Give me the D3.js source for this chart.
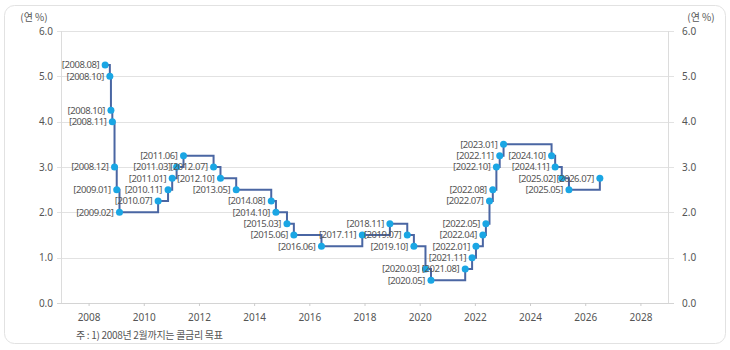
<!DOCTYPE html>
<html>
<head>
<meta charset="utf-8">
<script src="https://cdn.jsdelivr.net/npm/d3@7"></script>
<style>
  html, body { margin: 0; padding: 0; background: #fff; }
  svg { display: block; font-family: "Noto Sans CJK KR", "Noto Sans", sans-serif; }
</style>
</head>
<body>
<div id="chart"></div>
<script>
// svg area
var svgWidth = 730;
var svgHeight = 350;

// data: label, decimal date, rate
var dateLabels = ["2008.08", "2008.10", "2008.10", "2008.11", "2008.12", "2009.01", "2009.02",
    "2010.07", "2010.11", "2011.01", "2011.03", "2011.06", "2012.07", "2012.10", "2013.05",
    "2014.08", "2014.10", "2015.03", "2015.06", "2016.06", "2017.11", "2018.11", "2019.07",
    "2019.10", "2020.03", "2020.05", "2021.08", "2021.11", "2022.01", "2022.04", "2022.05",
    "2022.07", "2022.08", "2022.10", "2022.11", "2023.01", "2024.10", "2024.11", "2025.02",
    "2025.05", "2026.07"];
var dateValues = [2008.60, 2008.77, 2008.81, 2008.86, 2008.94, 2009.02, 2009.12,
    2010.52, 2010.88, 2011.03, 2011.19, 2011.44, 2012.53, 2012.78, 2013.35,
    2014.62, 2014.79, 2015.19, 2015.44, 2016.44, 2017.92, 2018.92, 2019.55,
    2019.79, 2020.21, 2020.41, 2021.65, 2021.90, 2022.04, 2022.29, 2022.40,
    2022.53, 2022.65, 2022.78, 2022.90, 2023.04, 2024.78, 2024.91, 2025.15,
    2025.41, 2026.53];
var rates = [5.25, 5.00, 4.25, 4.00, 3.00, 2.50, 2.00,
    2.25, 2.50, 2.75, 3.00, 3.25, 3.00, 2.75, 2.50,
    2.25, 2.00, 1.75, 1.50, 1.25, 1.50, 1.75, 1.50,
    1.25, 0.75, 0.50, 0.75, 1.00, 1.25, 1.50, 1.75,
    2.25, 2.50, 3.00, 3.25, 3.50, 3.25, 3.00, 2.75,
    2.50, 2.75];
var xTicks = [2008, 2010, 2012, 2014, 2016, 2018, 2020, 2022, 2024, 2026, 2028];
var yTicks = [0, 1, 2, 3, 4, 5, 6];
var unitLabel = "(연 %)";
var noteText = "주 : 1) 2008년 2월까지는 콜금리 목표";

var data = dateLabels.map(function(d, i) {
    return { label: d, date: dateValues[i], rate: rates[i] };
});

// chart area
var chartMargin = { top: 31, right: 62, bottom: 47, left: 61 };
var chartWidth = svgWidth - chartMargin.left - chartMargin.right;
var chartHeight = svgHeight - chartMargin.top - chartMargin.bottom;

var svg = d3.select("#chart")
    .append("svg")
    .attr("width", svgWidth)
    .attr("height", svgHeight);

// card frame
svg.append("rect")
    .attr("x", 4.5)
    .attr("y", 5.5)
    .attr("width", 721)
    .attr("height", 338)
    .attr("rx", 10)
    .attr("fill", "#fff")
    .attr("stroke", "#e2e2e2");

var chartGroup = svg.append("g")
    .attr("transform", `translate(${chartMargin.left}, ${chartMargin.top})`);

// scales
var xScale = d3.scaleLinear()
    .domain([2007, 2029])
    .range([0, chartWidth]);

var yScale = d3.scaleLinear()
    .domain([0, 6])
    .range([chartHeight, 0]);

// gridlines
chartGroup.append("g")
    .selectAll("line")
    .data(yTicks)
    .enter()
    .append("line")
    .attr("x1", -4)
    .attr("x2", chartWidth + 6)
    .attr("y1", d => Math.round(yScale(d)) + 0.5)
    .attr("y2", d => Math.round(yScale(d)) + 0.5)
    .attr("stroke", d => d === 0 ? "#d4d4d4" : "#e2e2e2")
    .attr("stroke-width", 1);

// vertical axis lines
[0, chartWidth].forEach(function(x) {
    chartGroup.append("line")
        .attr("x1", x + 0.5).attr("x2", x + 0.5)
        .attr("y1", 0).attr("y2", chartHeight)
        .attr("stroke", "#dcdcdc");
});

// axes
var bottomAxis = d3.axisBottom(xScale).tickValues(xTicks).tickFormat(d3.format("d")).tickSize(3).tickSizeOuter(0);
var leftAxis = d3.axisLeft(yScale).tickValues(yTicks).tickFormat(d3.format(".1f")).tickSize(0).tickPadding(8);
var rightAxis = d3.axisRight(yScale).tickValues(yTicks).tickFormat(d3.format(".1f")).tickSize(0).tickPadding(14);

function styleAxis(g) {
    g.select(".domain").remove();
    g.selectAll(".tick line").attr("stroke", "#cccccc");
    g.selectAll(".tick text").attr("fill", "#555").attr("font-size", 10)
        .attr("font-family", "'Noto Sans', sans-serif");
}

chartGroup.append("g")
    .attr("transform", `translate(0, ${chartHeight})`)
    .call(bottomAxis)
    .call(styleAxis)
    .selectAll(".tick text").attr("dy", "1.2em");

chartGroup.append("g")
    .call(leftAxis)
    .call(styleAxis);

chartGroup.append("g")
    .attr("transform", `translate(${chartWidth}, 0)`)
    .call(rightAxis)
    .call(styleAxis);

// step line
var line = d3.line()
    .x(d => xScale(d.date))
    .y(d => yScale(d.rate))
    .curve(d3.curveStepAfter);

chartGroup.append("path")
    .datum(data)
    .attr("d", line)
    .attr("fill", "none")
    .attr("stroke", "#4a66a3")
    .attr("stroke-width", 2);

// markers
chartGroup.append("g")
    .selectAll("circle")
    .data(data)
    .enter()
    .append("circle")
    .attr("cx", d => xScale(d.date))
    .attr("cy", d => yScale(d.rate))
    .attr("r", 3.5)
    .attr("fill", "#1aa6e4");

// point labels
chartGroup.append("g")
    .selectAll("text")
    .data(data)
    .enter()
    .append("text")
    .text(d => "[" + d.label + "]")
    .attr("x", d => xScale(d.date) - 6)
    .attr("y", d => yScale(d.rate))
    .attr("dy", "0.35em")
    .attr("text-anchor", "end")
    .attr("fill", "#555")
    .attr("font-size", 9.5)
    .attr("letter-spacing", -0.45)
    .attr("font-family", "'Noto Sans', sans-serif");

// unit labels
svg.append("text")
    .attr("x", 34)
    .attr("y", 21)
    .attr("text-anchor", "middle")
    .attr("fill", "#555")
    .attr("font-size", 10)
    .text(unitLabel);

svg.append("text")
    .attr("x", 701)
    .attr("y", 21)
    .attr("text-anchor", "middle")
    .attr("fill", "#555")
    .attr("font-size", 10)
    .text(unitLabel);

// note
svg.append("text")
    .attr("x", 76)
    .attr("y", 339)
    .attr("fill", "#555")
    .attr("font-size", 10)
    .attr("letter-spacing", -0.3)
    .text(noteText);
</script>
</body>
</html>
